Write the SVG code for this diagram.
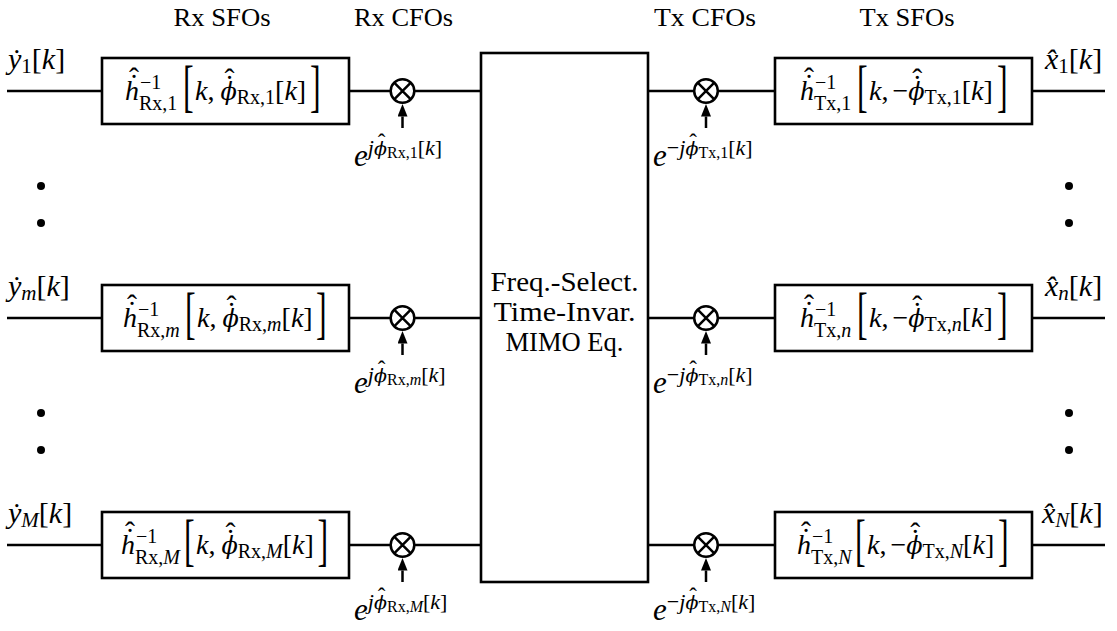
<svg xmlns="http://www.w3.org/2000/svg" width="1117" height="631" viewBox="0 0 1117 631">
<defs>
<style>
.ln{stroke:#000;stroke-width:2.5;fill:none}
.bx{fill:#fff;stroke:#000;stroke-width:2.6}
.ml{fill:#fff;stroke:#000;stroke-width:2.5}
.t{font-family:"Liberation Serif","DejaVu Serif",serif;fill:#000}
.i{font-style:italic}
.m{font-size:28px}
.lb{font-size:30px}
.s{font-size:20px}
.ls{font-size:21px}
.ss{font-size:16px}
.p{font-size:22px}
.e{font-size:31px;font-style:italic}
.phi{font-family:"DejaVu Serif",serif;font-style:italic;font-size:24px}
.phs{font-family:"DejaVu Serif",serif;font-style:italic;font-size:19px}
.acc{font-size:30px;text-anchor:middle}
.acs{font-size:23px;text-anchor:middle}
.hd{font-size:25px;text-anchor:middle}
.br{font-size:32px}
.ct{font-size:27px;text-anchor:middle}
</style>
<marker id="ah" viewBox="0 0 12.5 10" refX="0" refY="5" markerWidth="12.5" markerHeight="10" markerUnits="userSpaceOnUse" orient="auto"><path d="M0,0 L12.5,5 L0,10 Z" fill="#000"/></marker>
</defs>
<rect width="1117" height="631" fill="#fff"/>

<g id="headers">
<text class="t hd" x="222" y="26" textLength="97" lengthAdjust="spacingAndGlyphs">Rx SFOs</text>
<text class="t hd" x="403.5" y="26" textLength="99" lengthAdjust="spacingAndGlyphs">Rx CFOs</text>
<text class="t hd" x="705" y="26" textLength="102" lengthAdjust="spacingAndGlyphs">Tx CFOs</text>
<text class="t hd" x="907" y="26" textLength="95" lengthAdjust="spacingAndGlyphs">Tx SFOs</text>
</g>

<g id="connectors">
<line class="ln" x1="7" y1="91" x2="102" y2="91"/>
<line class="ln" x1="349" y1="91" x2="391" y2="91"/>
<line class="ln" x1="414" y1="91" x2="481" y2="91"/>
<line class="ln" x1="648" y1="91" x2="694" y2="91"/>
<line class="ln" x1="718" y1="91" x2="775" y2="91"/>
<line class="ln" x1="1032" y1="91" x2="1105" y2="91"/>
<line class="ln" x1="7" y1="318" x2="102" y2="318"/>
<line class="ln" x1="349" y1="318" x2="391" y2="318"/>
<line class="ln" x1="414" y1="318" x2="481" y2="318"/>
<line class="ln" x1="648" y1="318" x2="694" y2="318"/>
<line class="ln" x1="718" y1="318" x2="775" y2="318"/>
<line class="ln" x1="1032" y1="318" x2="1105" y2="318"/>
<line class="ln" x1="7" y1="545" x2="102" y2="545"/>
<line class="ln" x1="349" y1="545" x2="391" y2="545"/>
<line class="ln" x1="414" y1="545" x2="481" y2="545"/>
<line class="ln" x1="648" y1="545" x2="694" y2="545"/>
<line class="ln" x1="718" y1="545" x2="775" y2="545"/>
<line class="ln" x1="1032" y1="545" x2="1105" y2="545"/>
<line class="ln" x1="402.5" y1="128" x2="402.5" y2="116.5" marker-end="url(#ah)"/>
<line class="ln" x1="402.5" y1="355" x2="402.5" y2="343.5" marker-end="url(#ah)"/>
<line class="ln" x1="402.5" y1="582" x2="402.5" y2="570.5" marker-end="url(#ah)"/>
<line class="ln" x1="706" y1="128" x2="706" y2="116.5" marker-end="url(#ah)"/>
<line class="ln" x1="706" y1="355" x2="706" y2="343.5" marker-end="url(#ah)"/>
<line class="ln" x1="706" y1="582" x2="706" y2="570.5" marker-end="url(#ah)"/>
</g>

<g id="dots" fill="#000">
<circle cx="41" cy="186" r="4"/><circle cx="41" cy="223" r="4"/>
<circle cx="41" cy="413" r="4"/><circle cx="41" cy="450" r="4"/>
<circle cx="1069" cy="186" r="4"/><circle cx="1069" cy="223" r="4"/>
<circle cx="1069" cy="413" r="4"/><circle cx="1069" cy="450" r="4"/>
</g>

<g id="eq">
<rect class="bx" x="481" y="53" width="167" height="529"/>
<text class="t ct" x="564.5" y="291" textLength="148" lengthAdjust="spacingAndGlyphs">Freq.-Select.</text>
<text class="t ct" x="564.5" y="321" textLength="142" lengthAdjust="spacingAndGlyphs">Time-Invar.</text>
<text class="t ct" x="564.5" y="351" textLength="118" lengthAdjust="spacingAndGlyphs">MIMO Eq.</text>
</g>

<g id="in1"><text class="t lb" x="8" y="69"><tspan class="i">y&#x307;</tspan><tspan class="ls" dy="4">1</tspan><tspan dy="-4">[</tspan><tspan class="i">k</tspan>]</text></g>
<g id="inm"><text class="t lb" x="8" y="296"><tspan class="i">y&#x307;</tspan><tspan class="ls i" dy="4">m</tspan><tspan dy="-4">[</tspan><tspan class="i">k</tspan>]</text></g>
<g id="inM"><text class="t lb" x="8" y="523"><tspan class="i">y&#x307;</tspan><tspan class="ls i" dy="4">M</tspan><tspan dy="-4">[</tspan><tspan class="i">k</tspan>]</text></g>

<g id="out1"><text class="t lb" x="1045" y="69"><tspan class="i">x&#x302;</tspan><tspan class="ls" dy="4">1</tspan><tspan dy="-4">[</tspan><tspan class="i">k</tspan>]</text></g>
<g id="outn"><text class="t lb" x="1045" y="296"><tspan class="i">x&#x302;</tspan><tspan class="ls i" dy="4">n</tspan><tspan dy="-4">[</tspan><tspan class="i">k</tspan>]</text></g>
<g id="outN"><text class="t lb" x="1042" y="523"><tspan class="i">x&#x302;</tspan><tspan class="ls i" dy="4">N</tspan><tspan dy="-4">[</tspan><tspan class="i">k</tspan>]</text></g>

<g id="rxsfo1">
<rect class="bx" x="102" y="58" width="247" height="66"/>
<text class="t m i" x="125" y="100">h</text>
<text class="t acc" x="134" y="94.7">˙</text><text class="t acc" x="134" y="87.7">ˆ</text>
<text class="t s" x="140" y="89">−1</text>
<text class="t s" x="139" y="110">Rx,1</text>
<text class="t br" transform="translate(183,105) scale(1,1.75)">[</text>
<text class="t m" x="195" y="100"><tspan class="i">k</tspan>,</text>
<text class="t m" x="220.4" y="100"><tspan class="phi">ϕ</tspan><tspan class="s" dy="4">Rx,1</tspan><tspan dy="-4">[</tspan><tspan class="i">k</tspan>]</text>
<text class="t acc" x="229.5" y="95.7">˙</text><text class="t acc" x="229.5" y="88.7">ˆ</text>
<text class="t br" transform="translate(310,105) scale(1,1.75)">]</text>
</g>
<g id="rxsfom">
<rect class="bx" x="102" y="285" width="247" height="66"/>
<text class="t m i" x="123" y="327">h</text>
<text class="t acc" x="132" y="321.7">˙</text><text class="t acc" x="132" y="314.7">ˆ</text>
<text class="t s" x="138" y="316">−1</text>
<text class="t s" x="137" y="337">Rx,<tspan class="i">m</tspan></text>
<text class="t br" transform="translate(185,332) scale(1,1.75)">[</text>
<text class="t m" x="197" y="327"><tspan class="i">k</tspan>,</text>
<text class="t m" x="222.4" y="327"><tspan class="phi">ϕ</tspan><tspan class="s" dy="4">Rx,<tspan class="i">m</tspan></tspan><tspan dy="-4">[</tspan><tspan class="i">k</tspan>]</text>
<text class="t acc" x="231.5" y="322.7">˙</text><text class="t acc" x="231.5" y="315.7">ˆ</text>
<text class="t br" transform="translate(316,332) scale(1,1.75)">]</text>
</g>
<g id="rxsfoM">
<rect class="bx" x="102" y="512" width="247" height="66"/>
<text class="t m i" x="121" y="554">h</text>
<text class="t acc" x="130" y="548.7">˙</text><text class="t acc" x="130" y="541.7">ˆ</text>
<text class="t s" x="136" y="543">−1</text>
<text class="t s" x="135" y="564">Rx,<tspan class="i">M</tspan></text>
<text class="t br" transform="translate(184,559) scale(1,1.75)">[</text>
<text class="t m" x="196" y="554"><tspan class="i">k</tspan>,</text>
<text class="t m" x="221.4" y="554"><tspan class="phi">ϕ</tspan><tspan class="s" dy="4">Rx,<tspan class="i">M</tspan></tspan><tspan dy="-4">[</tspan><tspan class="i">k</tspan>]</text>
<text class="t acc" x="230.5" y="549.7">˙</text><text class="t acc" x="230.5" y="542.7">ˆ</text>
<text class="t br" transform="translate(317.5,559) scale(1,1.75)">]</text>
</g>

<g id="rxcfo1">
<circle class="ml" cx="402.5" cy="91" r="11.8"/>
<path class="ln" d="M394.2,82.7 L410.8,99.3 M394.2,99.3 L410.8,82.7"/>
<text class="t" x="354" y="166"><tspan class="e">e</tspan><tspan class="p i" dy="-11">j</tspan><tspan class="phs" x="374">ϕ</tspan><tspan class="ss" dy="3">Rx,1</tspan><tspan class="p" dy="-3">[</tspan><tspan class="p i">k</tspan><tspan class="p">]</tspan></text>
<text class="t acs" x="381.5" y="150">ˆ</text>
</g>
<g id="rxcfom">
<circle class="ml" cx="402.5" cy="318" r="11.8"/>
<path class="ln" d="M394.2,309.7 L410.8,326.3 M394.2,326.3 L410.8,309.7"/>
<text class="t" x="354" y="393"><tspan class="e">e</tspan><tspan class="p i" dy="-11">j</tspan><tspan class="phs" x="374">ϕ</tspan><tspan class="ss" dy="3">Rx,<tspan class="i">m</tspan></tspan><tspan class="p" dy="-3">[</tspan><tspan class="p i">k</tspan><tspan class="p">]</tspan></text>
<text class="t acs" x="381.5" y="377">ˆ</text>
</g>
<g id="rxcfoM">
<circle class="ml" cx="402.5" cy="545" r="11.8"/>
<path class="ln" d="M394.2,536.7 L410.8,553.3 M394.2,553.3 L410.8,536.7"/>
<text class="t" x="354" y="620"><tspan class="e">e</tspan><tspan class="p i" dy="-11">j</tspan><tspan class="phs" x="374">ϕ</tspan><tspan class="ss" dy="3">Rx,<tspan class="i">M</tspan></tspan><tspan class="p" dy="-3">[</tspan><tspan class="p i">k</tspan><tspan class="p">]</tspan></text>
<text class="t acs" x="381.5" y="604">ˆ</text>
</g>

<g id="txcfo1">
<circle class="ml" cx="706" cy="91" r="11.8"/>
<path class="ln" d="M697.7,82.7 L714.3,99.3 M697.7,99.3 L714.3,82.7"/>
<text class="t" x="653" y="166"><tspan class="e">e</tspan><tspan class="p" dy="-11">−</tspan><tspan class="p i">j</tspan><tspan class="phs" x="685.5">ϕ</tspan><tspan class="ss" dy="3">Tx,1</tspan><tspan class="p" dy="-3">[</tspan><tspan class="p i">k</tspan><tspan class="p">]</tspan></text>
<text class="t acs" x="693" y="150">ˆ</text>
</g>
<g id="txcfon">
<circle class="ml" cx="706" cy="318" r="11.8"/>
<path class="ln" d="M697.7,309.7 L714.3,326.3 M697.7,326.3 L714.3,309.7"/>
<text class="t" x="653" y="393"><tspan class="e">e</tspan><tspan class="p" dy="-11">−</tspan><tspan class="p i">j</tspan><tspan class="phs" x="685.5">ϕ</tspan><tspan class="ss" dy="3">Tx,<tspan class="i">n</tspan></tspan><tspan class="p" dy="-3">[</tspan><tspan class="p i">k</tspan><tspan class="p">]</tspan></text>
<text class="t acs" x="693" y="377">ˆ</text>
</g>
<g id="txcfoN">
<circle class="ml" cx="706" cy="545" r="11.8"/>
<path class="ln" d="M697.7,536.7 L714.3,553.3 M697.7,553.3 L714.3,536.7"/>
<text class="t" x="653" y="620"><tspan class="e">e</tspan><tspan class="p" dy="-11">−</tspan><tspan class="p i">j</tspan><tspan class="phs" x="685.5">ϕ</tspan><tspan class="ss" dy="3">Tx,<tspan class="i">N</tspan></tspan><tspan class="p" dy="-3">[</tspan><tspan class="p i">k</tspan><tspan class="p">]</tspan></text>
<text class="t acs" x="693" y="604">ˆ</text>
</g>

<g id="txsfo1">
<rect class="bx" x="775" y="58" width="257" height="66"/>
<text class="t m i" x="800" y="100">h</text>
<text class="t acc" x="809" y="94.7">˙</text><text class="t acc" x="809" y="87.7">ˆ</text>
<text class="t s" x="815" y="89">−1</text>
<text class="t s" x="814" y="110">Tx,1</text>
<text class="t br" transform="translate(857,105) scale(1,1.75)">[</text>
<text class="t m" x="869" y="100"><tspan class="i">k</tspan>,<tspan dx="4">−</tspan></text>
<text class="t m" x="908.2" y="100"><tspan class="phi">ϕ</tspan><tspan class="s" dy="4">Tx,1</tspan><tspan dy="-4">[</tspan><tspan class="i">k</tspan>]</text>
<text class="t acc" x="917.3" y="95.7">˙</text><text class="t acc" x="917.3" y="88.7">ˆ</text>
<text class="t br" transform="translate(997,105) scale(1,1.75)">]</text>
</g>
<g id="txsfon">
<rect class="bx" x="775" y="285" width="257" height="66"/>
<text class="t m i" x="800" y="327">h</text>
<text class="t acc" x="809" y="321.7">˙</text><text class="t acc" x="809" y="314.7">ˆ</text>
<text class="t s" x="815" y="316">−1</text>
<text class="t s" x="814" y="337">Tx,<tspan class="i">n</tspan></text>
<text class="t br" transform="translate(857,332) scale(1,1.75)">[</text>
<text class="t m" x="869" y="327"><tspan class="i">k</tspan>,<tspan dx="4">−</tspan></text>
<text class="t m" x="908.2" y="327"><tspan class="phi">ϕ</tspan><tspan class="s" dy="4">Tx,<tspan class="i">n</tspan></tspan><tspan dy="-4">[</tspan><tspan class="i">k</tspan>]</text>
<text class="t acc" x="917.3" y="322.7">˙</text><text class="t acc" x="917.3" y="315.7">ˆ</text>
<text class="t br" transform="translate(997,332) scale(1,1.75)">]</text>
</g>
<g id="txsfoN">
<rect class="bx" x="775" y="512" width="257" height="66"/>
<text class="t m i" x="797" y="554">h</text>
<text class="t acc" x="806" y="548.7">˙</text><text class="t acc" x="806" y="541.7">ˆ</text>
<text class="t s" x="812" y="543">−1</text>
<text class="t s" x="811" y="564">Tx,<tspan class="i">N</tspan></text>
<text class="t br" transform="translate(855,559) scale(1,1.75)">[</text>
<text class="t m" x="867" y="554"><tspan class="i">k</tspan>,<tspan dx="4">−</tspan></text>
<text class="t m" x="906.2" y="554"><tspan class="phi">ϕ</tspan><tspan class="s" dy="4">Tx,<tspan class="i">N</tspan></tspan><tspan dy="-4">[</tspan><tspan class="i">k</tspan>]</text>
<text class="t acc" x="915.3" y="549.7">˙</text><text class="t acc" x="915.3" y="542.7">ˆ</text>
<text class="t br" transform="translate(998,559) scale(1,1.75)">]</text>
</g>
</svg>
